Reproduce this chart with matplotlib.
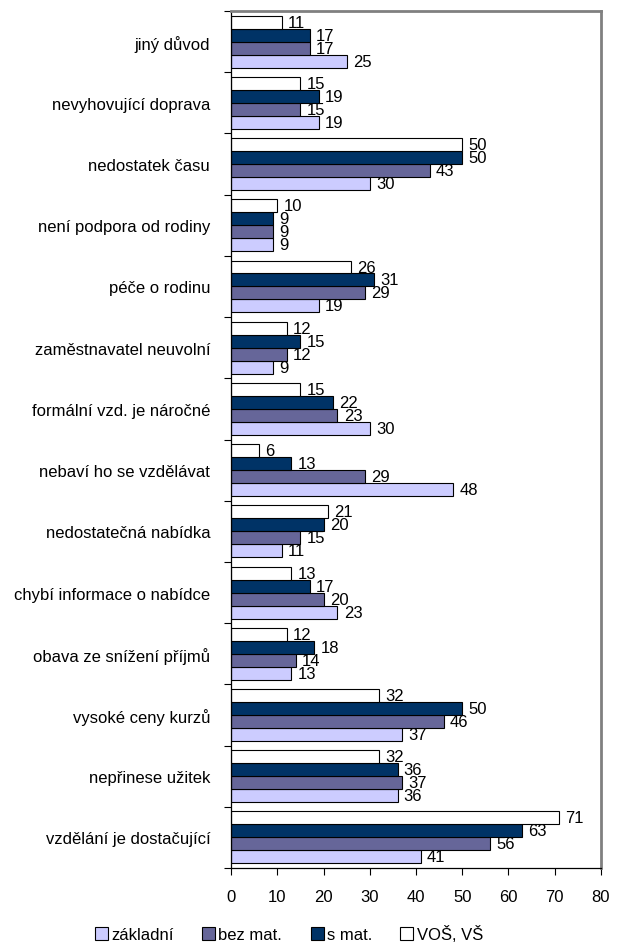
import matplotlib
matplotlib.use("Agg")
import matplotlib.pyplot as plt
import numpy as np
from matplotlib.patches import Patch

plt.rcParams['font.family'] = ['Liberation Sans', 'DejaVu Sans']
FS = 12

categories = [
    "jiný důvod",
    "nevyhovující doprava",
    "nedostatek času",
    "není podpora od rodiny",
    "péče o rodinu",
    "zaměstnavatel neuvolní",
    "formální vzd. je náročné",
    "nebaví ho se vzdělávat",
    "nedostatečná nabídka",
    "chybí informace o nabídce",
    "obava ze snížení příjmů",
    "vysoké ceny kurzů",
    "nepřinese užitek",
    "vzdělání je dostačující",
]

zakladni = [25, 19, 30, 9, 19, 9, 30, 48, 11, 23, 13, 37, 36, 41]
bez_mat = [17, 15, 43, 9, 29, 12, 23, 29, 15, 20, 14, 46, 37, 56]
s_mat = [17, 19, 50, 9, 31, 15, 22, 13, 20, 17, 18, 50, 36, 63]
vos_vs = [11, 15, 50, 10, 26, 12, 15, 6, 21, 13, 12, 32, 32, 71]

series = [
    ("základní", zakladni, "#CCCCFF"),
    ("bez mat.", bez_mat, "#666699"),
    ("s mat.", s_mat, "#003366"),
    ("VOŠ, VŠ", vos_vs, "#FFFFFF"),
]

fig = plt.figure(figsize=(6.19, 9.45), dpi=100)
ax = fig.add_axes([0.3732, 0.0804, 0.5977, 0.9069])

n = len(categories)
centers = np.arange(n)[::-1].astype(float)  # first category at top
bar_h = 0.212

for i, (name, vals, col) in enumerate(series):
    # základní lowest in each group, VOŠ, VŠ at the top
    offs = (i - 1.5) * bar_h
    y = centers + offs
    ax.barh(y, vals, height=bar_h, color=col, edgecolor="black",
            linewidth=0.8, label=name, zorder=2)
    for yy, v in zip(y, vals):
        ax.annotate(f"{v}", (v, yy), xytext=(4.5, 0), textcoords="offset points",
                    ha="left", va="center", fontsize=FS)

ax.set_xlim(0, 80)
ax.set_ylim(-0.5, n - 0.5)
ax.set_xticks(np.arange(0, 81, 10))
ax.tick_params(axis="x", direction="out", length=5, labelsize=FS, pad=10)

# group separator ticks on the y axis, category names at group centres
ax.set_yticks(np.arange(-0.5, n, 1.0))
ax.set_yticklabels([])
ax.tick_params(axis="y", which="major", direction="out", length=5)
ax.set_yticks(centers, minor=True)
ax.set_yticklabels(categories, minor=True, fontsize=FS)
ax.tick_params(axis="y", which="minor", length=0, pad=15)

for side in ("top", "right"):
    ax.spines[side].set_color("#808080")
    ax.spines[side].set_linewidth(2)
for side in ("left", "bottom"):
    ax.spines[side].set_color("black")
    ax.spines[side].set_linewidth(0.9)

handles = [Patch(facecolor=c, edgecolor="black", linewidth=0.8, label=nm)
           for nm, _, c in series]
fig.legend(handles=handles, loc="center", bbox_to_anchor=(0.467, 0.0106),
           ncol=4, frameon=False, fontsize=FS, handlelength=0.78,
           handleheight=0.78, handletextpad=0.2, columnspacing=1.7,
           borderpad=0)

fig.savefig("out.png", dpi=100)
